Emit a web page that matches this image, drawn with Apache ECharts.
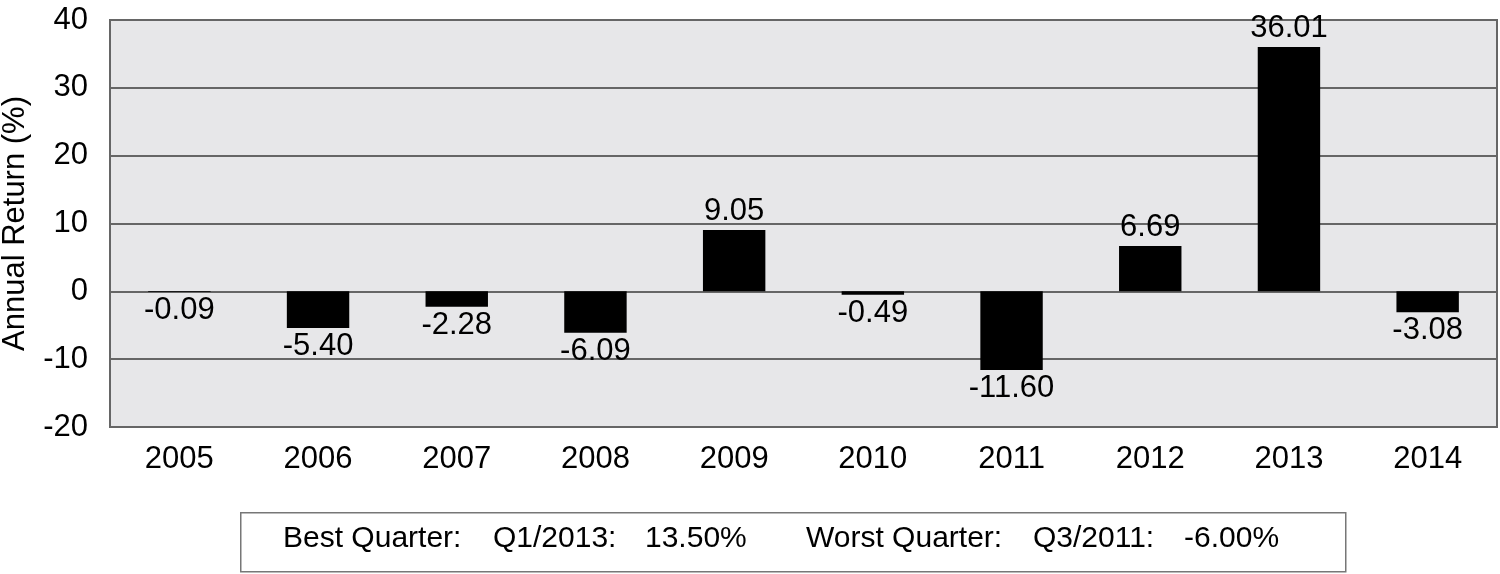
<!DOCTYPE html>
<html>
<head>
<meta charset="utf-8">
<script src="https://cdn.jsdelivr.net/npm/echarts@6/dist/echarts.min.js"></script>
<style>html,body{margin:0;padding:0;background:#fff}#c{width:1500px;height:574px}</style>
</head>
<body>
<div id="c"></div>
<script>
const years = ['2005','2006','2007','2008','2009','2010','2011','2012','2013','2014'];
const returns = [-0.09, -5.40, -2.28, -6.09, 9.05, -0.49, -11.60, 6.69, 36.01, -3.08];
const yTicks = [-20, -10, 0, 10, 20, 30, 40];
const axisTitle = 'Annual Return (%)';
const boxTexts = ['Best Quarter:', 'Q1/2013:', '13.50%', 'Worst Quarter:', 'Q3/2011:', '-6.00%'];

const FONT = 'Liberation Sans, Arial, sans-serif';
const chart = echarts.init(document.getElementById('c'), null, {renderer: 'canvas'});
const textX = [283, 493, 645, 806, 1033, 1184];

chart.setOption({
  animation: false,
  grid: {left: 110, right: 3, top: 20, bottom: 147, show: true, containLabel: false,
    outerBoundsMode: 'none',
    backgroundColor: '#e7e7e9', borderColor: '#666', borderWidth: 2},
  xAxis: {
    type: 'category', data: years,
    axisLine: {show: false}, axisTick: {show: false},
    axisLabel: {color: '#000', fontSize: 31, fontFamily: FONT, margin: 17}
  },
  yAxis: {
    type: 'value', min: yTicks[0], max: yTicks[yTicks.length - 1], interval: 10,
    name: axisTitle, nameLocation: 'middle', nameGap: 79,
    nameTextStyle: {color: '#000', fontSize: 31, fontFamily: FONT},
    axisLine: {show: false}, axisTick: {show: false},
    axisLabel: {color: '#000', fontSize: 31, fontFamily: FONT, margin: 22},
    splitLine: {show: true, lineStyle: {color: '#666', width: 2}}
  },
  series: [{
    type: 'bar', data: returns.map(v => ({
      value: v,
      label: {position: v >= 0 ? 'top' : 'bottom', distance: v >= 0 ? 3 : 3}
    })),
    barWidth: '45%',
    itemStyle: {color: '#000'},
    label: {show: true, color: '#000', fontSize: 31, fontFamily: FONT,
      formatter: p => p.value.toFixed(2)}
  }],
  graphic: [
    {type: 'rect', left: 240, top: 512, shape: {width: 1105, height: 59},
      style: {fill: '#fff', stroke: '#777', lineWidth: 1.5}}
  ].concat(boxTexts.map((t, i) => ({
    type: 'text', left: textX[i], top: 524,
    style: {text: t, fill: '#000', font: '30px ' + FONT}
  })))
});
</script>
</body>
</html>
